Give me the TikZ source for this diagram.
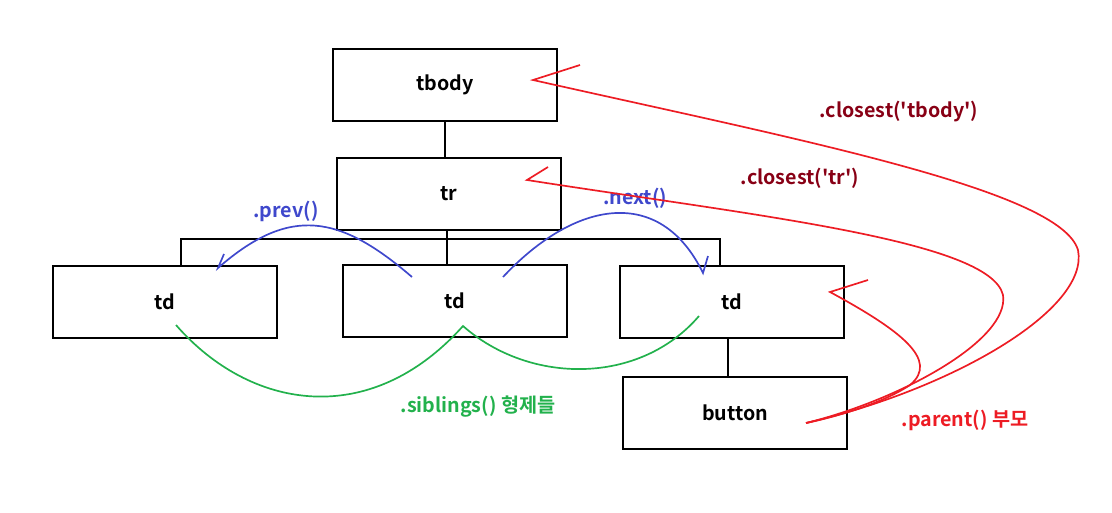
\documentclass[tikz,border=0pt]{standalone}
\usepackage{fontspec}
\setmainfont{Noto Sans CJK KR}[BoldFont={* Bold}]
\usetikzlibrary{positioning}

\definecolor{paintred}{RGB}{237,28,36}
\definecolor{paintdark}{RGB}{136,0,21}
\definecolor{paintblue}{RGB}{63,72,204}
\definecolor{paintgreen}{RGB}{34,177,76}

\tikzset{
  box/.style={draw, line width=1.4pt, minimum width=5.6cm, minimum height=1.8cm, font=\fontsize{14}{16}\selectfont\bfseries},
  lbl/.style={font=\fontsize{14}{16}\selectfont\bfseries},
  hand/.style={line width=1.2pt}
}

\begin{document}
\begin{tikzpicture}[x=0.025cm, y=-0.025cm]
        \useasboundingbox (0,0) rectangle (1112,513);
        % tree
        \node[box] (tbody) at (445,85) {tbody};
        \node[box] (tr) at (449,194) {tr};
        \node[box] (tdl) at (165,302) {td};
        \node[box] (tdm) at (455,301) {td};
        \node[box] (tdr) at (732,302) {td};
        \node[box] (btn) at (735,413) {button};
        \coordinate (bus) at (447,239);
        \draw[line width=1.4pt] (tbody) -- (tbody.south |- tr.north);
        \draw[line width=1.4pt] (tr.south -| bus) -- (bus |- tdm.north);
        \draw[line width=1.4pt] ([xshift=0.4cm]tdl.north) |- (bus) -| ([xshift=-0.3cm]tdr.north);
        \draw[line width=1.4pt] ([xshift=-0.1cm]tdr.south) -- ([xshift=-0.1cm]tdr.south |- btn.north);
        % prev / next
        \draw[hand, paintblue] (412,277) .. controls (340,215) and (290,205) .. (218,268) -- (224,254);
        \draw[hand, paintblue] (503,277) .. controls (575,200) and (660,185) .. (703,273) -- (708,256);
        \node[lbl, text=paintblue] (prev) at (286,211) {.prev()};
        \node[lbl, text=paintblue] (next) at (635,198) {.next()};
        % siblings
        \draw[hand, paintgreen] (176,325) .. controls (250,410) and (370,430) .. (463,326)
              .. controls (530,385) and (640,385) .. (699,316);
        \node[lbl, text=paintgreen] (sib) at (478,407) {.siblings() 형제들};
        % closest / parent
        \draw[hand, paintred] (580,65) -- (533,80) .. controls (800,140) and (1060,190) .. (1078,250)
              .. controls (1090,310) and (950,390) .. (806,423);
        \draw[hand, paintred] (548,167) -- (527,180) .. controls (750,215) and (990,240) .. (1003,295)
              .. controls (1010,340) and (900,400) .. (806,423);
        \draw[hand, paintred] (868,280) -- (830,292) .. controls (900,330) and (940,360) .. (910,385)
              .. controls (880,405) and (830,418) .. (806,423);
        \node[lbl, text=paintdark] (ctbody) at (899,112) {.closest(\textquotesingle tbody\textquotesingle)};
        \node[lbl, text=paintdark] (ctr) at (800,178) {.closest(\textquotesingle tr\textquotesingle)};
        \node[lbl, text=paintred] (par) at (965,420) {.parent() 부모};
\end{tikzpicture}
\end{document}
